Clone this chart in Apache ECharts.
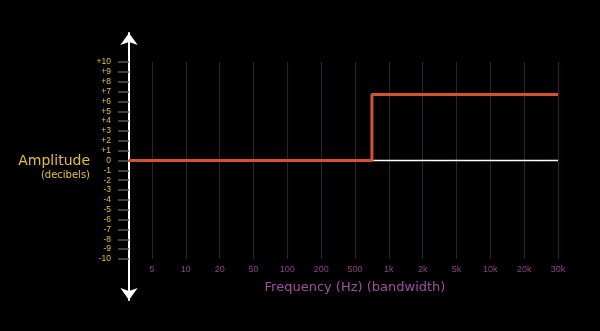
<!DOCTYPE html>
<html>
<head>
<meta charset="utf-8">
<script src="https://cdn.jsdelivr.net/npm/echarts@6/dist/echarts.min.js"></script>
<style>
html,body{margin:0;padding:0;background:#000;}
#c{width:600px;height:331px;}
</style>
</head>
<body>
<div id="c"></div>
<script>
// categories (log-spaced frequency labels, drawn evenly spaced)
const freqLabels = ['5','10','20','50','100','200','500','1k','2k','5k','10k','20k','30k'];
// y tick values
const dbTicks = [10,9,8,7,6,5,4,3,2,1,0,-1,-2,-3,-4,-5,-6,-7,-8,-9,-10];
// shelf response (x in category index units, y in dB)
const responseX = [-0.68, 6.5, 6.5, 12];
const responseY = [0, 0, 6.7, 6.7];
// flat reference line (0 dB) beyond the cutoff
const flatX = [6.5, 12];
const flatY = [0, 0];

const X_MIN = -0.68, X_MAX = 12;
const yellow = '#e6c21e';
const purple = '#8e3f8c';
const font = 'Liberation Sans';
const wide = 'DejaVu Sans';

const chart = echarts.init(document.getElementById('c'), null, {renderer:'canvas'});
chart.setOption({
  backgroundColor: '#000',
  animation: false,
  grid: [
    {left:129, right:42, top:62, bottom:72},
    {left:152, right:42, top:62, bottom:72},
    {left:129, right:42, top:33, bottom:31}
  ],
  xAxis: [
    {gridIndex:0, type:'value', min:X_MIN, max:X_MAX, show:false},
    {gridIndex:1, type:'category', data:freqLabels, boundaryGap:false,
     axisLine:{show:false}, axisTick:{show:false},
     splitLine:{show:true, lineStyle:{color:'#3a1c3a', width:1}},
     axisLabel:{color:purple, fontSize:9, fontFamily:font, margin:6},
     name:'Frequency (Hz) (bandwidth)', nameLocation:'middle', nameGap:22,
     nameTextStyle:{color:'#a24ea0', fontSize:13, fontFamily:wide}},
    {gridIndex:2, type:'value', show:false, min:0, max:1}
  ],
  yAxis: [
    {gridIndex:0, type:'value', min:-10, max:10, interval:1,
     axisLine:{show:false, onZero:false},
     axisTick:{show:true, length:11, lineStyle:{color:'#555', width:1.5}},
     splitLine:{show:false},
     axisLabel:{color:yellow, fontSize:8.5, fontFamily:font, margin:18,
       formatter: v => v > 0 ? '+' + v : String(v)},
     name:'{a|Amplitude}\n{b|(decibels)}', nameLocation:'middle', nameRotate:0, nameGap:39,
     nameTextStyle:{align:'right', verticalAlign:'middle', padding:[14,0,0,0],
       rich:{a:{color:yellow, fontSize:14, fontFamily:wide, align:'right', lineHeight:15},
             b:{color:yellow, fontSize:10, fontFamily:wide, align:'right', lineHeight:12}}}},
    {gridIndex:1, type:'value', min:-10, max:10, show:false},
    {gridIndex:2, type:'value', min:0, max:1,
     axisLine:{show:true, onZero:false, symbol:['arrow','arrow'], symbolSize:[13,12],
       lineStyle:{color:'#fff', width:2}},
     axisTick:{show:false}, axisLabel:{show:false}, splitLine:{show:false}}
  ],
  series: [
    {type:'line', xAxisIndex:0, yAxisIndex:0, data:flatX.map((x,i)=>[x,flatY[i]]),
     showSymbol:false, lineStyle:{color:'#fff', width:1.5}, z:2},
    {type:'line', xAxisIndex:0, yAxisIndex:0, data:responseX.map((x,i)=>[x,responseY[i]]),
     showSymbol:false, lineStyle:{color:'#d4532a', width:3}, z:3}
  ]
});
</script>
</body>
</html>
